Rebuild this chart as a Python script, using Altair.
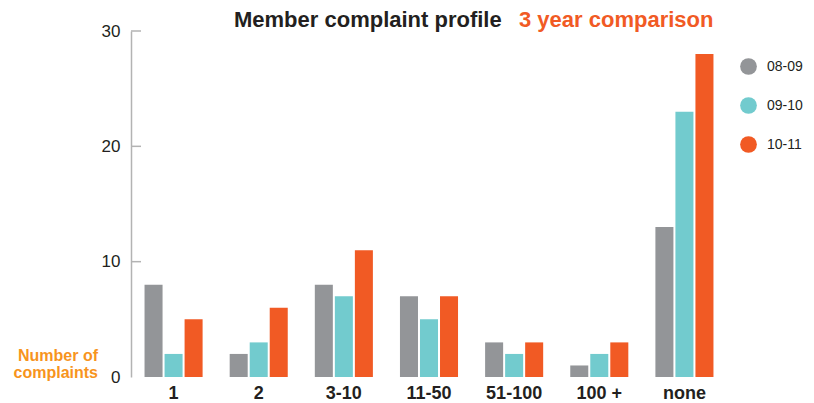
import altair as alt
import pandas as pd

categories = ["1", "2", "3-10", "11-50", "51-100", "100 +", "none"]
years = ["08-09", "09-10", "10-11"]
v_0809 = [8, 2, 8, 7, 3, 1, 13]
v_0910 = [2, 3, 7, 5, 2, 2, 23]
v_1011 = [5, 6, 11, 7, 3, 3, 28]
colors = ["#939598", "#72CBCE", "#F15A24"]
y_ticks = [10, 20, 30]

rows = []
for yr, vals in zip(years, [v_0809, v_0910, v_1011]):
    for c, v in zip(categories, vals):
        rows.append({"category": c, "year": yr, "count": v})
df = pd.DataFrame(rows)

W, H = 596, 346
FONT = "Liberation Sans"

bars = alt.Chart(df).mark_bar().encode(
    x=alt.X("category:N", sort=categories,
            scale=alt.Scale(paddingInner=0.318, paddingOuter=0.159),
            axis=alt.Axis(title=None, labelAngle=0, domain=False, ticks=False,
                          labelFont=FONT, labelFontSize=18, labelFontWeight="bold",
                          labelColor="#231F20", labelPadding=7)),
    xOffset=alt.XOffset("year:N", sort=years,
                        scale=alt.Scale(paddingInner=0.1, paddingOuter=0)),
    y=alt.Y("count:Q", scale=alt.Scale(domain=[0, 30], nice=False),
            axis=alt.Axis(title=None, values=[0, 10, 20, 30], grid=False, ticks=False,
                          domainColor="#B3B3B3", domainWidth=1.5,
                          labelFont=FONT, labelFontSize=17, labelColor="#231F20",
                          labelPadding=11)),
    color=alt.Color("year:N", sort=years,
                    scale=alt.Scale(domain=years, range=colors),
                    legend=alt.Legend(title=None, orient="none", legendX=609, legendY=27,
                                      symbolType="circle", symbolSize=280,
                                      symbolStrokeWidth=0, symbolOpacity=1,
                                      labelFont=FONT, labelFontSize=14,
                                      labelColor="#231F20", labelOffset=10,
                                      rowPadding=22, padding=0)),
)

ticks = alt.Chart(pd.DataFrame({"t": y_ticks})).mark_rule(
    color="#B3B3B3", strokeWidth=1.5
).encode(
    y="t:Q", x=alt.value(0), x2=alt.value(10)
)

title1 = alt.Chart(pd.DataFrame({"t": ["Member complaint profile"]})).mark_text(
    align="left", baseline="alphabetic", font=FONT, fontSize=22, fontWeight="bold",
    color="#231F20"
).encode(text="t:N", x=alt.value(103), y=alt.value(-4))

title2 = alt.Chart(pd.DataFrame({"t": ["3 year comparison"]})).mark_text(
    align="left", baseline="alphabetic", font=FONT, fontSize=22, fontWeight="bold",
    color="#F15A24"
).encode(text="t:N", x=alt.value(388), y=alt.value(-4))

ylab = alt.Chart(pd.DataFrame({"t": ["Number of\ncomplaints"]})).mark_text(
    align="right", baseline="alphabetic", font=FONT, fontSize=16, fontWeight="bold",
    color="#F7941D", lineBreak="\n", lineHeight=17
).encode(text="t:N", x=alt.value(-33), y=alt.value(330))

chart = alt.layer(bars, ticks, title1, title2, ylab).properties(
    width=W, height=H,
    autosize=alt.AutoSizeParams(type="none"),
    padding={"left": 123, "top": 23, "right": 79, "bottom": 24},
).configure_view(stroke=None)

chart.save("out.html", embed_options={"renderer": "svg", "actions": False})
